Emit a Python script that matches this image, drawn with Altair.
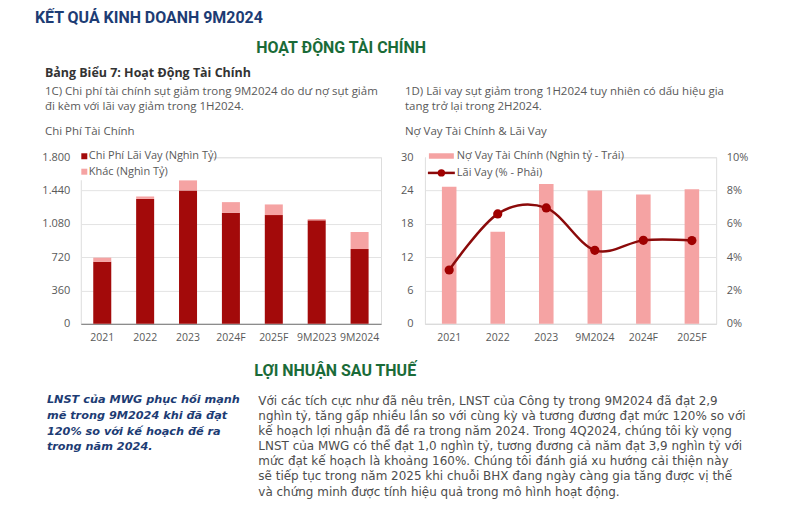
import altair as alt
import pandas as pd

# ---------------- data ----------------
left_periods = ["2021", "2022", "2023", "2024F", "2025F", "9M2023", "9M2024"]
interest_cost = [670, 1350, 1441, 1200, 1175, 1118, 808]   # Chi Phí Lãi Vay (Nghìn Tỷ)
other_cost = [45, 26, 111, 115, 115, 14, 184]              # Khác (Nghìn Tỷ)
left_series = ["Chi Phí Lãi Vay (Nghìn Tỷ)", "Khác (Nghìn Tỷ)"]
left_ticks = [0, 360, 720, 1080, 1440, 1800]

right_periods = ["2021", "2022", "2023", "9M2024", "2024F", "2025F"]
debt = [24.7, 16.6, 25.2, 24.0, 23.3, 24.25]               # Nợ Vay Tài Chính (Nghìn tỷ - Trái)
rate = [3.23, 6.6, 6.96, 4.41, 5.01, 5.0]                  # Lãi Vay (% - Phải)
right_series = ["Nợ Vay Tài Chính (Nghìn tỷ - Trái)", "Lãi Vay (% - Phải)"]
debt_ticks = [0, 6, 12, 18, 24, 30]
rate_ticks = [0, 2, 4, 6, 8, 10]

page_title = "KẾT QUẢ KINH DOANH 9M2024"
section1 = "HOẠT ĐỘNG TÀI CHÍNH"
exhibit = "Bảng Biểu 7: Hoạt Động Tài Chính"
note_left = ["1C) Chi phí tài chính sụt giảm trong 9M2024 do dư nợ sụt giảm",
             "đi kèm với lãi vay giảm trong 1H2024."]
note_right = ["1D) Lãi vay sụt giảm trong 1H2024 tuy nhiên có dấu hiệu gia",
              "tang trở lại trong 2H2024."]
left_title = "Chi Phí Tài Chính"
right_title = "Nợ Vay Tài Chính & Lãi Vay"
section2 = "LỢI NHUẬN SAU THUẾ"
highlight = ["LNST của MWG phục hồi mạnh",
             "mẽ trong 9M2024 khi đã đạt",
             "120% so với kế hoạch đề ra",
             "trong năm 2024."]
paragraph = ["Với các tích cực như đã nêu trên, LNST của Công ty trong 9M2024 đã đạt 2,9",
             "nghìn tỷ, tăng gấp nhiều lần so với cùng kỳ và tương đương đạt mức 120% so với",
             "kế hoạch lợi nhuận đã đề ra trong năm 2024. Trong 4Q2024, chúng tôi kỳ vọng",
             "LNST của MWG có thể đạt 1,0 nghìn tỷ, tương đương cả năm đạt 3,9 nghìn tỷ với",
             "mức đạt kế hoạch là khoảng 160%. Chúng tôi đánh giá xu hướng cải thiện này",
             "sẽ tiếp tục trong năm 2025 khi chuỗi BHX đang ngày càng gia tăng được vị thế",
             "và chứng minh được tính hiệu quả trong mô hình hoạt động."]

# ---------------- style ----------------
BODY = "Open Sans"
WIDE = "DejaVu Sans"
HEAD = "Roboto"
DARK_RED = "#A30A0A"
LIGHT_RED = "#F5A3A3"
LINE_RED = "#8B0A0A"
GREY = "#595959"
GREEN = "#1A6B38"
NAVY = "#1D3C74"
GRID = "#E3E3E3"
AX = 10.5

dummy = pd.DataFrame({"k": [0]})

# view origins in page pixels
LX0, LY0 = 80, 156
RX0, RY0 = 425, 156


def txt(s, x, y, size, color, weight="normal", style="normal", align="left", font=BODY):
    return alt.Chart(dummy).mark_text(
        text=s, align=align, baseline="middle", fontSize=size, color=color,
        fontWeight=weight, fontStyle=style, font=font
    ).encode(x=alt.value(x), y=alt.value(y))


def box(x1, x2, y1, y2, color, opacity=1):
    return alt.Chart(dummy).mark_rect(color=color, opacity=opacity).encode(
        x=alt.value(x1), x2=alt.value(x2), y=alt.value(y1), y2=alt.value(y2))


# ---------------- left chart ----------------
rows = []
for i, p in enumerate(left_periods):
    rows.append({"period": p, "series": left_series[0], "value": interest_cost[i], "ord": 0})
    rows.append({"period": p, "series": left_series[1], "value": other_cost[i], "ord": 1})
ldf = pd.DataFrame(rows)

lx = lambda v: v - LX0
ly = lambda v: v - LY0

left_bars = alt.Chart(ldf).mark_bar().encode(
    x=alt.X("period:N", sort=left_periods, title=None,
            scale=alt.Scale(paddingInner=0.58, paddingOuter=0.29),
            axis=alt.Axis(labelAngle=0, ticks=False, labelPadding=9, labelFont=BODY,
                          labelFontSize=AX, labelColor=GREY, domainColor="#8C8C8C",
                          domainWidth=1.2)),
    y=alt.Y("sum(value):Q", title=None, stack="zero",
            scale=alt.Scale(domain=[0, 1800], nice=False),
            axis=alt.Axis(values=left_ticks, ticks=False, domain=False, labelPadding=11,
                          labelFont=BODY, labelFontSize=AX + 0.5, labelColor=GREY,
                          gridColor=GRID,
                          labelExpr="replace(format(datum.value, ','), ',', '.')")),
    color=alt.Color("series:N", scale=alt.Scale(domain=left_series, range=[DARK_RED, LIGHT_RED]),
                    legend=None),
    order=alt.Order("ord:Q", sort="ascending"),
)

# invisible frame that fixes the page extent
page_frame = box(lx(8), lx(779), ly(8), ly(497), "white", opacity=0)

left_layers = [
    page_frame,
    left_bars,
    box(lx(79), lx(212), ly(148), ly(179), "white"),
    box(lx(80.5), lx(86.5), ly(152), ly(158), DARK_RED),
    box(lx(80.5), lx(86.5), ly(167.5), ly(173.5), LIGHT_RED),
    txt(left_series[0], lx(88), ly(155), 11, GREY),
    txt(left_series[1], lx(88), ly(170.7), 11, GREY),
    txt(page_title, lx(34), ly(16), 16, NAVY, weight="bold", font=HEAD),
    txt(section1, lx(341), ly(46.5), 16, GREEN, weight="bold", align="center", font=HEAD),
    txt(exhibit, lx(44), ly(72), 12.5, "#333333", weight="bold"),
    txt(note_left[0], lx(44), ly(90.7), 11.5, GREY),
    txt(note_left[1], lx(44), ly(106), 11.5, GREY),
    txt(note_right[0], lx(405), ly(90.7), 11.5, GREY),
    txt(note_right[1], lx(405), ly(106), 11.5, GREY),
    txt(left_title, lx(44), ly(130.5), 11.5, GREY),
    txt(right_title, lx(405), ly(130.5), 11.5, GREY),
    txt(section2, lx(254), ly(370), 16, GREEN, weight="bold", font=HEAD),
]
for i, line in enumerate(highlight):
    left_layers.append(txt(line, lx(46), ly(399 + 16 * i), 11.3, NAVY, weight="bold",
                           style="italic", font=WIDE))
for i, line in enumerate(paragraph):
    left_layers.append(txt(line, lx(258), ly(400 + 15.2 * i), 12, "#4D4D4D", font=WIDE))

left_chart = alt.layer(*left_layers).properties(width=301, height=167)

# ---------------- right chart ----------------
rdf = pd.DataFrame({"period": right_periods, "debt": debt, "rate": rate})
rx = lambda v: v - RX0
ry = lambda v: v - RY0

xr = alt.X("period:N", sort=right_periods, title=None,
           scale=alt.Scale(paddingInner=0.7, paddingOuter=0.35),
           axis=alt.Axis(labelAngle=0, ticks=False, labelPadding=9, labelFont=BODY,
                         labelFontSize=AX, labelColor=GREY, domainColor="#D9D9D9"))

right_bars = alt.Chart(rdf).mark_bar(color=LIGHT_RED).encode(
    x=xr,
    y=alt.Y("debt:Q", title=None, scale=alt.Scale(domain=[0, 30], nice=False),
            axis=alt.Axis(values=debt_ticks, ticks=False, domain=False, labelPadding=12,
                          labelFont=BODY, labelFontSize=AX + 0.5, labelColor=GREY,
                          gridColor=GRID)),
)

rate_y = alt.Y("rate:Q", title=None, scale=alt.Scale(domain=[0, 10], nice=False),
               axis=alt.Axis(orient="right", values=rate_ticks, ticks=False, domain=False,
                             grid=False, labelPadding=10, labelFont=BODY, labelFontSize=AX + 0.5,
                             labelColor=GREY, labelExpr="datum.value + '%'"))

right_line = alt.Chart(rdf).mark_line(color=LINE_RED, strokeWidth=2.5,
                                      interpolate="cardinal").encode(x=xr, y=rate_y)
right_pts = alt.Chart(rdf).mark_circle(color="#A00000", size=85, opacity=1).encode(x=xr, y=rate_y)

rate_layer = alt.layer(right_line, right_pts)

right_legend = alt.layer(
    box(rx(426), rx(620), ry(147), ry(180), "white"),
    box(rx(429), rx(454), ry(152), ry(157.5), LIGHT_RED),
    alt.Chart(dummy).mark_rule(color=LINE_RED, strokeWidth=2.5).encode(
        x=alt.value(rx(428)), x2=alt.value(rx(455)), y=alt.value(ry(171.7))),
    alt.Chart(dummy).mark_circle(color="#A00000", size=55, opacity=1).encode(
        x=alt.value(rx(441.5)), y=alt.value(ry(171.7))),
    txt(right_series[0], rx(457), ry(155), 11, GREY),
    txt(right_series[1], rx(457), ry(171.7), 11, GREY),
)

right_chart = alt.layer(right_bars, rate_layer, right_legend).resolve_scale(
    y="independent").properties(width=292, height=167)

chart = alt.hconcat(left_chart, right_chart, spacing=44, bounds="flush", padding=0
                    ).configure_view(strokeWidth=0).configure(background="white")

chart.save("out.html", embed_options={"renderer": "svg", "actions": False})
